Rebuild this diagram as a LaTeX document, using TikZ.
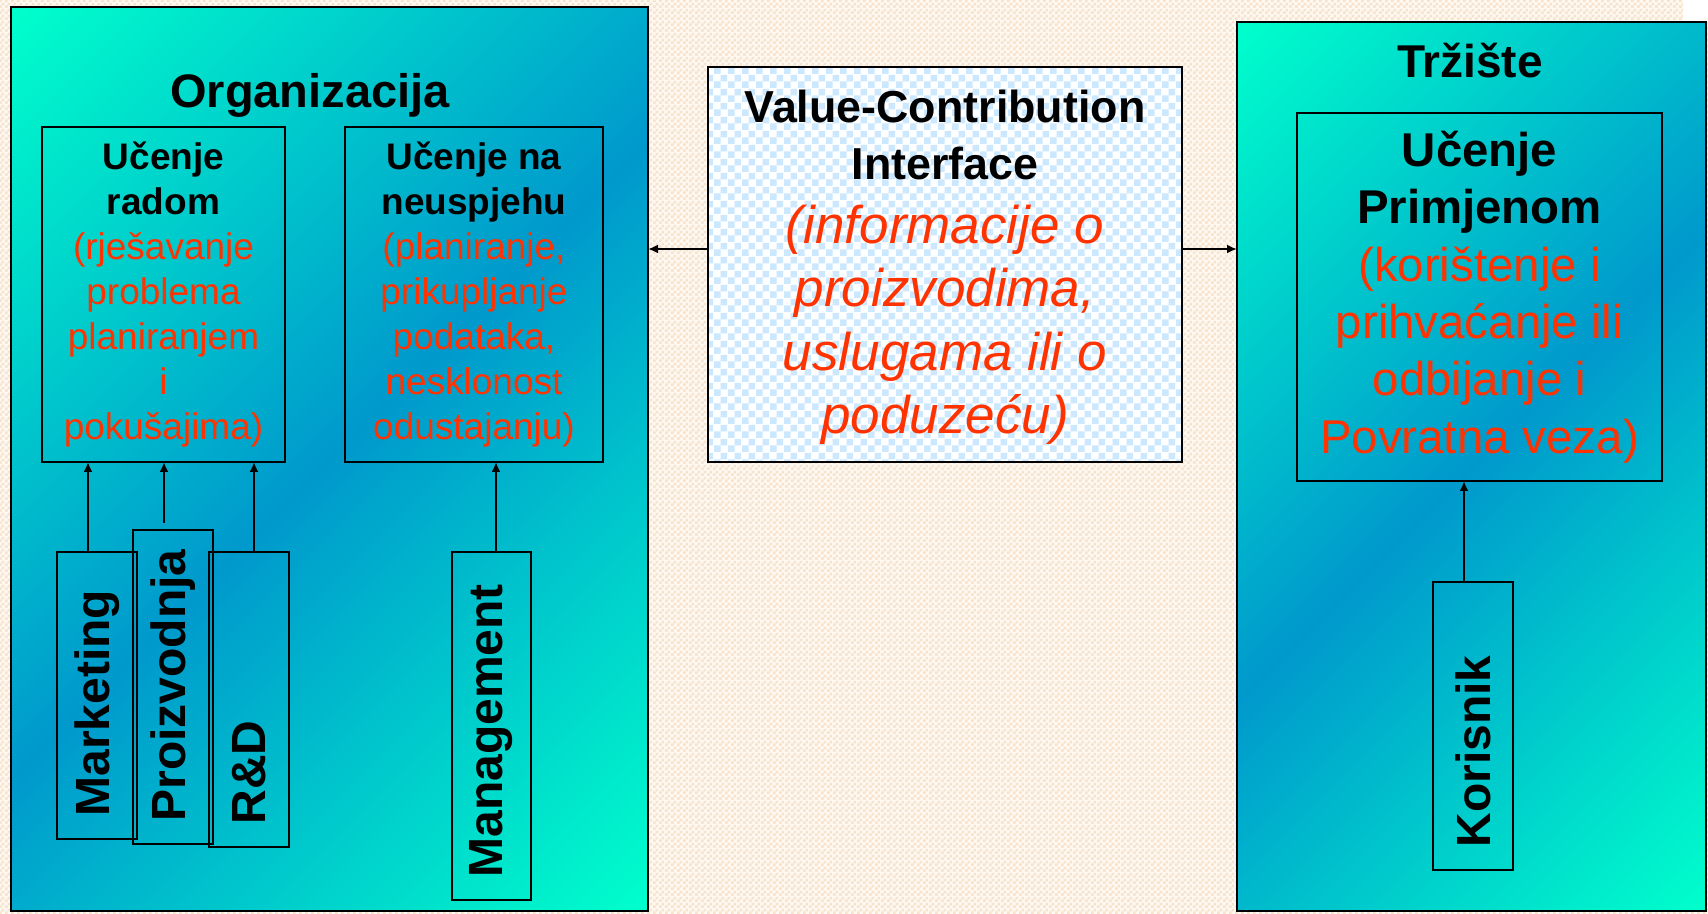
\documentclass[tikz,border=0pt]{standalone}
\usepackage{fontspec}
\setmainfont{Liberation Sans}
\usepackage{tikz}
\usetikzlibrary{positioning}
\usetikzlibrary{calc}
\usetikzlibrary{arrows.meta}
\usetikzlibrary{patterns}
\definecolor{aquagreen}{RGB}{0,255,204}
\definecolor{deepsea}{RGB}{0,153,204}
\definecolor{txtred}{RGB}{255,51,0}
\definecolor{paper}{RGB}{255,248,240}
\definecolor{paperdot}{RGB}{247,226,204}
\definecolor{paleblue}{RGB}{204,232,255}
\pgfdeclarehorizontalshading{seashade}{100bp}{color(0bp)=(aquagreen); color(14.6bp)=(aquagreen); color(50bp)=(deepsea); color(85.4bp)=(aquagreen); color(100bp)=(aquagreen)}
\pgfdeclarepatternformonly{bluecheck}{\pgfpointorigin}{\pgfqpoint{7pt}{7pt}}{\pgfqpoint{7pt}{7pt}}{%
  \pgfpathrectangle{\pgfpointorigin}{\pgfqpoint{3.5pt}{3.5pt}}%
  \pgfpathrectangle{\pgfqpoint{3.5pt}{3.5pt}}{\pgfqpoint{3.5pt}{3.5pt}}%
  \pgfusepath{fill}}
\pgfdeclarepatternformonly{papercheck}{\pgfpointorigin}{\pgfqpoint{3pt}{3pt}}{\pgfqpoint{3pt}{3pt}}{%
  \pgfpathrectangle{\pgfpointorigin}{\pgfqpoint{1.5pt}{1.5pt}}%
  \pgfpathrectangle{\pgfqpoint{1.5pt}{1.5pt}}{\pgfqpoint{1.5pt}{1.5pt}}%
  \pgfusepath{fill}}
\newcommand{\fsz}[2]{\fontsize{#1}{#2}\selectfont}
\newcommand{\blk}[1]{{\color{black}\bfseries #1}}
\tikzstyle{area} = [rectangle,draw,line width=1.3pt,shading=seashade,shading angle=-45,inner sep=0pt,outer sep=0pt]
\tikzstyle{ri} = [rectangle,draw,line width=1.3pt,inner sep=0pt,outer sep=0pt,align=center,text=txtred]
\tikzstyle{unit} = [rectangle,draw,line width=1.3pt,inner sep=0pt,outer sep=0pt,minimum width=40pt]
\tikzstyle{vlabel} = [rotate=90,anchor=west,inner sep=0pt,font=\fsz{24}{28}\bfseries]

\begin{document}
\begin{tikzpicture}
	[x=0.5pt,y=-0.5pt,font=\fsz{18.5}{22.5}]
	\tikzstyle{arrow}=[-{Latex[length=5pt,width=4.5pt]},line width=1pt];

	\fill[paper] (0,0) rectangle (1708,914);
	\fill[pattern=papercheck,pattern color=paperdot] (0,0) rectangle (1708,914);
	\useasboundingbox (0,0) rectangle (1708,914);
	\fill[white] (1683,0) rectangle (1708,22);

	\node (org) [area,minimum width=318.5pt,minimum height=452pt] at (329.5,459) {};
	\node (trz) [area,minimum width=234.5pt,minimum height=444.5pt] at (1471.5,466.5) {};
	\node (orgt) [font=\fsz{23.5}{28}\bfseries,anchor=base] at (310,108) {Organizacija};
	\node (trzt) [font=\fsz{23}{28}\bfseries,anchor=base] at (1470,78) {Tržište};

	\node (vci) [ri,preaction={fill=white},pattern=bluecheck,pattern color=paleblue,
		minimum width=237pt,minimum height=197.5pt,font=\fsz{26.5}{31.75}\itshape] at (945,264.5)
		{{\fsz{22.4}{28}\upshape\blk{\rule{0pt}{19.5pt}Value-Contribution}}\\[-3.25pt]
		 {\fsz{22.4}{28}\upshape\blk{Interface}}\\
		 (informacije o\\proizvodima,\\uslugama ili o\\poduzeću)};
	\node (rad) [ri,minimum width=121.5pt,minimum height=167.5pt] at (163.5,294.5)
		{\blk{Učenje}\\\blk{radom}\\(rješavanje\\problema\\planiranjem\\i\\pokušajima)};
	\node (neu) [ri,minimum width=129pt,minimum height=167.5pt] at (474,294.5)
		{\blk{Učenje na}\\\blk{neuspjehu}\\(planiranje,\\prikupljanje\\podataka,\\nesklonost\\odustajanju)};
	\node (prim) [ri,minimum width=182.5pt,minimum height=184pt,font=\fsz{23.7}{28.7}] at (1479.5,297)
		{\blk{Učenje}\\\blk{Primjenom}\\(korištenje i\\prihvaćanje ili\\odbijanje i\\Povratna veza)};

	\node (mkt) [unit,minimum height=143.5pt] at (97,695.5) {};
	\node (prz) [unit,minimum height=157pt,right=-2pt of mkt.north east,anchor=north west,yshift=11pt] {};
	\node (rnd) [unit,minimum height=147.5pt,right=-2pt of prz.north east,anchor=north west,yshift=-11pt] {};
	\node (mgm) [unit,minimum width=39.5pt,minimum height=174pt] at (491.5,726) {};
	\node (kor) [unit,minimum height=144pt] at (1473,726) {};

	\node (mktl) [vlabel] at ($(mkt.south)+(0,-22)$) {Marketing};
	\node (przl) [vlabel] at ($(prz.south)+(0,-22)$) {Proizvodnja};
	\node (rndl) [vlabel] at ($(rnd.south)+(0,-22)$) {R\&D};
	\node (mgml) [vlabel] at ($(mgm.south)+(0,-22)$) {Management};
	\node (korl) [vlabel] at ($(kor.south)+(0,-22)$) {Korisnik};

	\coordinate (mktout) at ($(mkt.north)+(-9,0)$);
	\coordinate (przout) at ($(prz.north)+(-9,-7)$);
	\coordinate (rndout) at ($(rnd.north)+(5,0)$);
	\coordinate (mgmout) at ($(mgm.north)+(4.5,0)$);
	\coordinate (korout) at ($(kor.north)+(-9,0)$);
	\coordinate (vcil) at ($(vci.west)+(0,-15.5)$);
	\coordinate (vcir) at ($(vci.east)+(0,-15.5)$);

	\path[arrow]
		(mktout) edge (mktout |- rad.south)
		(przout) edge (przout |- rad.south)
		(rndout) edge (rndout |- rad.south)
		(mgmout) edge (mgmout |- neu.south)
		(korout) edge (korout |- prim.south)
		(vcil) edge (vcil -| org.east)
		(vcir) edge (vcir -| trz.west);
\end{tikzpicture}
\end{document}
